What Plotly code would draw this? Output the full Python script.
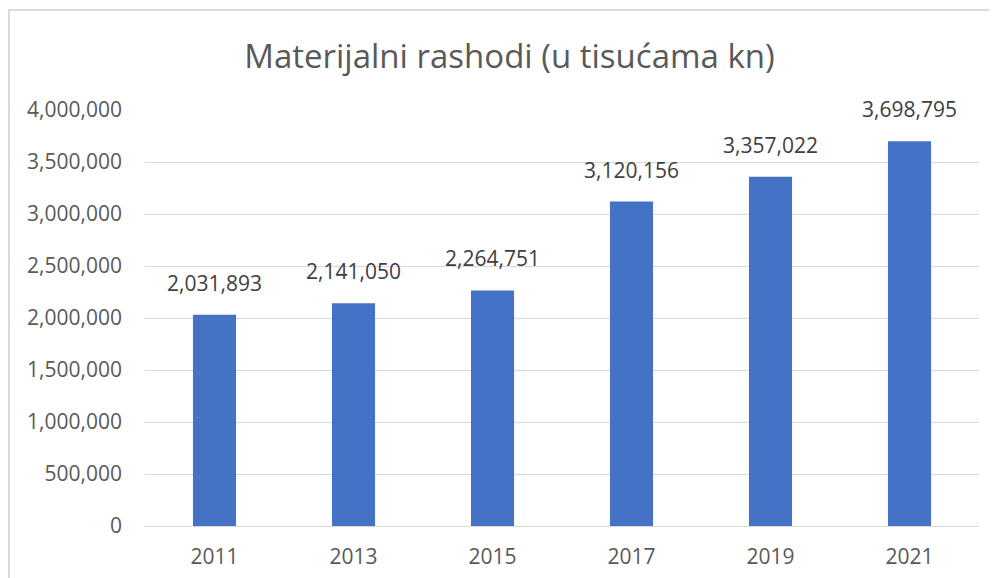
import plotly.graph_objects as go

years = ["2011", "2013", "2015", "2017", "2019", "2021"]
values = [2031893, 2141050, 2264751, 3120156, 3357022, 3698795]
y_ticks = [0, 500000, 1000000, 1500000, 2000000, 2500000, 3000000, 3500000, 4000000]
y_tick_labels = ["{:,}".format(v) for v in y_ticks]

W, H = 997, 578
L, R, T, B = 137, 26, 102, 60
pw, ph = W - L - R, H - T - B

def px_x(x):
    return (x - L) / pw

def px_y(y):
    return 1 - (y - T) / ph

font = "Open Sans, Noto Sans, sans-serif"

fig = go.Figure()
fig.add_trace(go.Bar(
    x=years, y=values,
    marker=dict(color="#4472C4", line=dict(width=0)),
    hoverinfo="x+y",
))

for i, v in enumerate(values):
    fig.add_annotation(
        x=i, y=v, text="{:,}".format(v), showarrow=False,
        yanchor="bottom", yshift=16,
        font=dict(family=font, size=21, color="#404040"),
    )

fig.add_shape(
    type="rect", xref="paper", yref="paper",
    x0=px_x(1), x1=px_x(1010), y0=px_y(2), y1=px_y(600),
    line=dict(color="#d9d9d9", width=2), fillcolor="rgba(0,0,0,0)", layer="below",
)

fig.update_layout(
    width=W, height=H,
    margin=dict(l=L, r=R, t=T, b=B, autoexpand=False),
    paper_bgcolor="white", plot_bgcolor="white",
    bargap=0.69,
    showlegend=False,
    title=dict(
        text="Materijalni rashodi (u tisućama kn)",
        x=501.5 / W, xanchor="center", xref="container",
        y=1 - 48 / H, yanchor="middle", yref="container",
        font=dict(family=font, size=33, color="#595959"),
    ),
    xaxis=dict(
        type="category", showgrid=False, showline=False, zeroline=False,
        ticks="", ticklabelstandoff=16, automargin=False,
        tickfont=dict(family=font, size=21, color="#595959"),
    ),
    yaxis=dict(
        range=[0, 4000000], tickvals=y_ticks, ticktext=y_tick_labels,
        showgrid=True, gridcolor="#d9d9d9", gridwidth=1,
        zeroline=True, zerolinecolor="#d9d9d9", zerolinewidth=1,
        showline=False, ticks="", ticklabelstandoff=22, automargin=False,
        tickfont=dict(family=font, size=21, color="#595959"),
    ),
)

fig.write_html("out.html")
